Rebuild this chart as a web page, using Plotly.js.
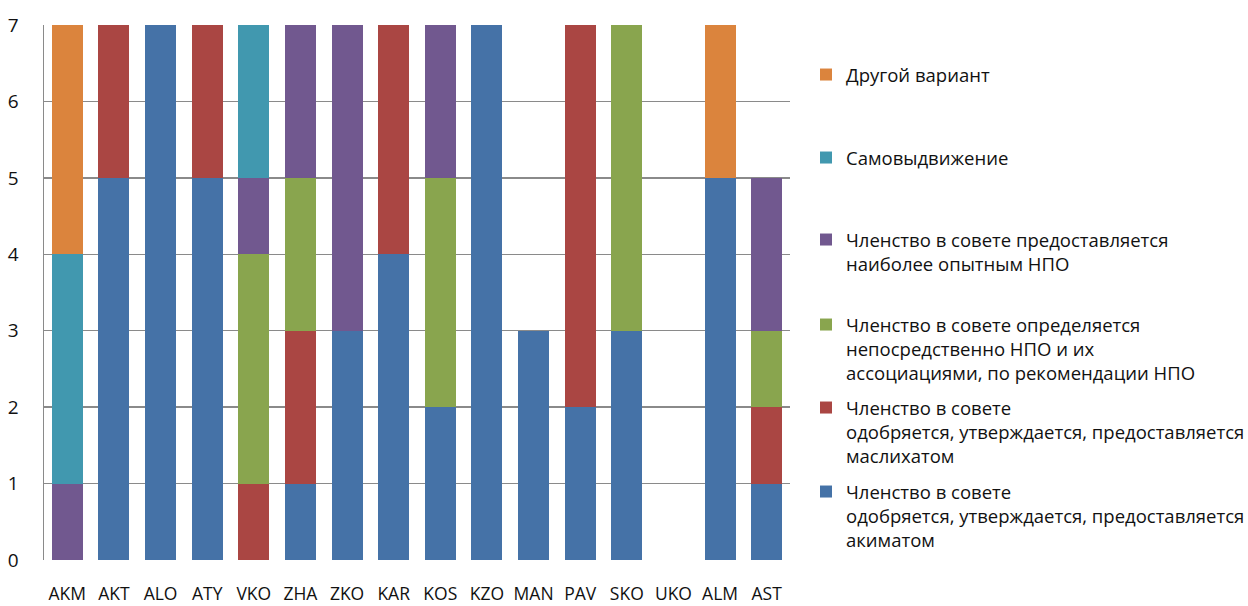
<!DOCTYPE html>
<html>
<head>
<meta charset="utf-8">
<script src="https://cdn.plot.ly/plotly-3.0.1.min.js"></script>
<style>html,body{margin:0;padding:0;background:#fff;}#chart{width:1248px;height:606px;}</style>
</head>
<body>
<div id="chart"></div>
<script>
const categories = ['AKM','AKT','ALO','ATY','VKO','ZHA','ZKO','KAR','KOS','KZO','MAN','PAV','SKO','UKO','ALM','AST'];
const akimat      = [0,5,7,5,0,1,3,4,2,7,3,2,3,0,5,1];
const maslikhat   = [0,2,0,2,1,2,0,3,0,0,0,5,0,0,0,1];
const ngoDirect   = [0,0,0,0,3,2,0,0,3,0,0,0,4,0,0,1];
const experienced = [1,0,0,0,1,2,4,0,2,0,0,0,0,0,0,2];
const selfNom     = [3,0,0,0,2,0,0,0,0,0,0,0,0,0,0,0];
const other       = [3,0,0,0,0,0,0,0,0,0,0,0,0,0,2,0];
const yTicks = [0,1,2,3,4,5,6,7];

const seriesNames = [
  'Членство в совете<br>одобряется, утверждается, предоставляется<br>акиматом',
  'Членство в совете<br>одобряется, утверждается, предоставляется<br>маслихатом',
  'Членство в совете определяется<br>непосредственно НПО и их<br>ассоциациями, по рекомендации НПО',
  'Членство в совете предоставляется<br>наиболее опытным НПО',
  'Самовыдвижение',
  'Другой вариант'
];
const seriesValues = [akimat, maslikhat, ngoDirect, experienced, selfNom, other];
const colors = ['#4572A7','#AA4643','#89A54E','#71588F','#4198AF','#DB843D'];
const legendIds = ['legend6','legend5','legend4','legend3','legend2','legend'];
const legendTopY = [492,408,325,240,158,75];

const FONT = 'Open Sans, Noto Sans, DejaVu Sans, sans-serif';
const traces = seriesValues.map((v,i)=>({
  type:'bar', x:categories, y:v, name:seriesNames[i],
  marker:{color:colors[i], line:{width:0}},
  legend: legendIds[i], showlegend:true, hoverinfo:'none'
}));

const layout = {
  width:1248, height:606,
  margin:{l:44, r:458, t:25, b:46},
  barmode:'stack', bargap:0.335,
  paper_bgcolor:'#fff', plot_bgcolor:'#fff',
  font:{family:FONT, size:18, color:'#111'},
  xaxis:{showgrid:false, zeroline:false, showline:false, ticks:'', ticklabelstandoff:21, tickfont:{size:17.5, color:'#111'}},
  yaxis:{range:[0,7], tickvals:yTicks, showgrid:true, gridcolor:'#8a8a8a', gridwidth:1.3, zeroline:false,
         showline:true, linecolor:'#8a8a8a', linewidth:1.5, ticks:'', ticklabelstandoff:20, tickfont:{size:19, color:'#111'}},
};
legendIds.forEach((id)=>{
  const i = legendIds.indexOf(id);
  layout[id] = {xref:'container', yref:'container', x:(846-40)/1248, xanchor:'left',
    y:1-(legendTopY[i]-19)/606, yanchor:'top', bgcolor:'rgba(0,0,0,0)', borderwidth:0,
    valign:'top', font:{family:FONT, size:18.5, color:'#111'}};
});
Plotly.newPlot('chart', traces, layout, {displayModeBar:false, staticPlot:true});
</script>
</body>
</html>
